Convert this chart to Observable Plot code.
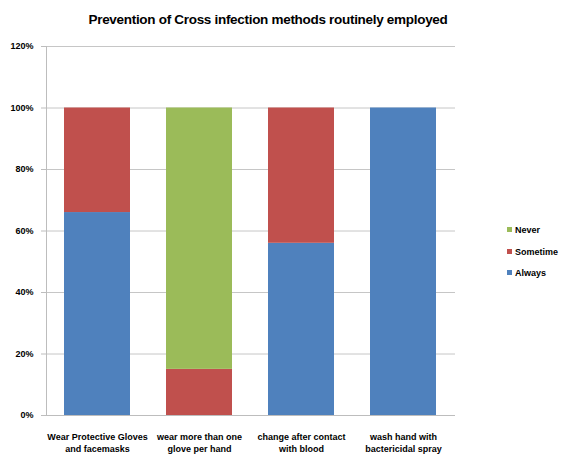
<!DOCTYPE html>
<html>
<head>
<meta charset="utf-8">
<script src="https://cdn.jsdelivr.net/npm/d3@7"></script>
<script src="https://cdn.jsdelivr.net/npm/@observablehq/plot@0.6"></script>
<style>
  body { margin: 0; background: #fff; }
  #chart { position: relative; width: 565px; height: 454px; font-family: "Liberation Sans Narrow", "Liberation Sans", "DejaVu Sans Condensed", sans-serif; }
  #title { position: absolute; top: 12px; left: 0; width: 536px; text-align: center; font-weight: bold; font-size: 13.5px; color: #000; letter-spacing: -0.3px; }
  #plot { position: absolute; top: 36px; left: 0; }
  #legend { position: absolute; left: 507px; top: 225px; font-weight: bold; font-size: 9px; color: #000; }
  #legend div { height: 21.5px; display: flex; align-items: flex-start; }
  #legend span.sw { display: inline-block; width: 5px; height: 5px; margin: 2px 3px 0 0; }
</style>
</head>
<body>
<div id="chart">
  <div id="title">Prevention of Cross infection methods routinely employed</div>
  <div id="plot"></div>
  <div id="legend"></div>
</div>
<script>
// Survey categories (x axis) and answer shares in percent
const categories = [
  "Wear Protective Gloves\nand facemasks",
  "wear more than one\nglove per hand",
  "change after contact\nwith blood",
  "wash hand with\nbactericidal spray"
];
const always   = [66, 0, 56, 100];
const sometime = [34, 15, 44, 0];
const never    = [0, 85, 0, 0];

const seriesNames  = ["Always", "Sometime", "Never"];
const seriesColors = ["#4F81BD", "#C0504D", "#9BBB59"];
const yTicks = [0, 20, 40, 60, 80, 100, 120];

const seriesValues = [always, sometime, never];
const rows = [];
seriesNames.forEach((s, i) => {
  categories.forEach((c, j) => rows.push({category: c, answer: s, value: seriesValues[i][j]}));
});

// Vertical axis line along the left edge of the plot frame
function leftAxisLine(index, scales, values, dimensions) {
  const x = dimensions.marginLeft + 0.5;
  const line = document.createElementNS("http://www.w3.org/2000/svg", "line");
  line.setAttribute("x1", x);
  line.setAttribute("x2", x);
  line.setAttribute("y1", scales.y(120));
  line.setAttribute("y2", scales.y(0));
  line.setAttribute("stroke", "#bdbdbd");
  return line;
}

const plot = Plot.plot({
  width: 565,
  height: 418,
  marginLeft: 46,
  marginRight: 110,
  marginTop: 10,
  marginBottom: 39,
  style: {fontFamily: "'Liberation Sans Narrow', 'Liberation Sans', sans-serif", fontWeight: "bold", fontSize: "9px", color: "#000", background: "#fff"},
  x: {domain: categories, paddingInner: 0.35, paddingOuter: 0.175, axis: null},
  y: {domain: [0, 120], axis: null},
  color: {domain: seriesNames, range: seriesColors},
  marks: [
    Plot.ruleY(yTicks.filter(d => d > 0), {stroke: "#c6c6c6", strokeWidth: 1}),
    Plot.barY(rows, {x: "category", y: "value", fill: "answer", order: seriesNames}),
    Plot.ruleY([0], {stroke: "#bdbdbd", strokeWidth: 1}),
    leftAxisLine,
    Plot.axisY({ticks: yTicks, tickFormat: d => d + "%", tickSize: 5, tickPadding: 8, stroke: "#bdbdbd", fill: "#000", fontWeight: "bold", fontSize: 9, label: null}),
    Plot.axisX({tickSize: 0, tickPadding: 16, fill: "#000", fontWeight: "bold", fontSize: 9, label: null, lineHeight: 1.35})
  ]
});
document.getElementById("plot").appendChild(plot);

// Legend, listed top to bottom in stacking order from the top
const legend = document.getElementById("legend");
[...seriesNames].reverse().forEach(name => {
  const row = document.createElement("div");
  const sw = document.createElement("span");
  sw.className = "sw";
  sw.style.background = seriesColors[seriesNames.indexOf(name)];
  row.appendChild(sw);
  row.appendChild(document.createTextNode(name));
  legend.appendChild(row);
});
</script>
</body>
</html>
